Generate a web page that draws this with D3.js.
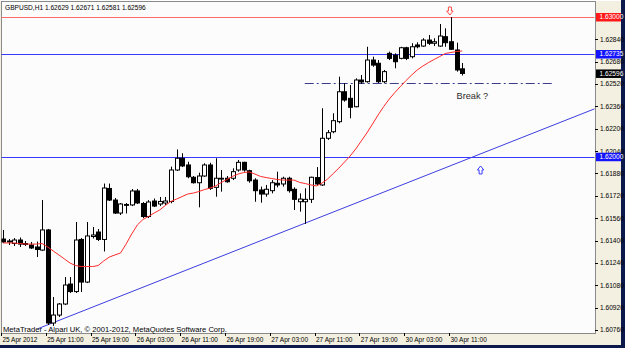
<!DOCTYPE html>
<html><head><meta charset="utf-8">
<script src="https://cdn.jsdelivr.net/npm/d3@7"></script>
<style>
html,body{margin:0;padding:0;background:#fff;}
svg{display:block;font-family:"Liberation Sans",Arial,sans-serif;}
</style></head>
<body>
<svg id="chart" width="625" height="348"></svg>
<script>
// ---- data ----
const symbolTitle = "GBPUSD,H1 1.62629 1.62671 1.62581 1.62596";
const footerText = "MetaTrader - Alpari UK, \u00A9 2001-2012, MetaQuotes Software Corp.";
const opens = [1.61411,1.61390,1.61379,1.61404,1.61379,1.61368,1.61354,1.61332,1.61476,1.60810,
1.60867,1.60946,1.61089,1.61035,1.61408,1.61103,1.61429,1.61461,1.61408,1.61773,
1.61690,1.61597,1.61658,1.61655,1.61755,1.61665,1.61572,1.61683,1.61662,1.61669,
1.61680,1.61905,1.61989,1.61941,1.61853,1.61814,1.61862,1.61941,1.61781,1.61846,
1.61846,1.61846,1.61905,1.61960,1.61900,1.61833,1.61762,1.61733,1.61757,1.61810,
1.61805,1.61846,1.61767,1.61678,1.61678,1.61695,1.61851,1.61798,1.62132,1.62179,
1.62251,1.62465,1.62418,1.62358,1.62549,1.62537,1.62692,1.62669,1.62537,1.62740,
1.62728,1.62704,1.62780,1.62716,1.62800,1.62792,1.62835,1.62812,1.62792,1.62859,
1.62823,1.62764,1.62629];
const highs = [1.61476,1.61411,1.61418,1.61422,1.61397,1.61390,1.61393,1.61690,1.61483,1.60996,
1.60953,1.61139,1.61139,1.61533,1.61418,1.61533,1.61497,1.61483,1.61808,1.61808,
1.61705,1.61669,1.61669,1.61769,1.61769,1.61676,1.61690,1.61701,1.61712,1.61712,
1.61929,1.62052,1.62025,1.61964,1.61862,1.61886,1.61953,1.61957,1.61989,1.61905,
1.61862,1.61917,1.61977,1.61964,1.61907,1.61846,1.61786,1.61798,1.61833,1.61893,
1.61857,1.61857,1.61781,1.61738,1.61774,1.61857,1.61926,1.62347,1.62191,1.62311,
1.62573,1.62526,1.62513,1.62561,1.62585,1.62787,1.62716,1.62692,1.62621,1.62752,
1.62740,1.62787,1.62787,1.62812,1.62819,1.62848,1.62871,1.62848,1.62950,1.62919,
1.63000,1.62816,1.62671];
const lows = [1.61383,1.61368,1.61361,1.61354,1.61361,1.61340,1.61282,1.61325,1.60796,1.60789,
1.60853,1.60939,1.61025,1.61025,1.61032,1.61096,1.61415,1.61397,1.61322,1.61683,
1.61590,1.61583,1.61594,1.61647,1.61662,1.61561,1.61561,1.61640,1.61647,1.61655,
1.61667,1.61898,1.61926,1.61846,1.61808,1.61638,1.61857,1.61762,1.61714,1.61750,
1.61814,1.61833,1.61893,1.61893,1.61814,1.61678,1.61671,1.61714,1.61738,1.61781,
1.61786,1.61743,1.61619,1.61607,1.61519,1.61669,1.61791,1.61791,1.62120,1.62168,
1.62239,1.62394,1.62275,1.62354,1.62521,1.62530,1.62644,1.62528,1.62526,1.62692,
1.62633,1.62697,1.62692,1.62704,1.62776,1.62787,1.62800,1.62792,1.62787,1.62787,
1.62764,1.62609,1.62581];
const closes = [1.61390,1.61397,1.61404,1.61375,1.61372,1.61347,1.61336,1.61476,1.60810,1.60867,
1.60946,1.61082,1.61035,1.61404,1.61103,1.61433,1.61440,1.61408,1.61776,1.61690,
1.61597,1.61662,1.61655,1.61755,1.61669,1.61572,1.61676,1.61647,1.61680,1.61683,
1.61905,1.61989,1.61934,1.61857,1.61814,1.61862,1.61941,1.61774,1.61846,1.61841,
1.61821,1.61893,1.61960,1.61905,1.61828,1.61757,1.61733,1.61767,1.61814,1.61798,
1.61846,1.61757,1.61695,1.61697,1.61695,1.61853,1.61805,1.62132,1.62172,1.62258,
1.62465,1.62406,1.62354,1.62549,1.62535,1.62692,1.62656,1.62537,1.62609,1.62704,
1.62680,1.62780,1.62704,1.62787,1.62787,1.62835,1.62812,1.62823,1.62864,1.62816,
1.62769,1.62621,1.62596];
const maValues = [1.61383,1.61383,1.61383,1.61379,1.61375,1.61375,1.61375,1.61379,1.61354,1.61325,
1.61297,1.61268,1.61239,1.61221,1.61214,1.61214,1.61214,1.61221,1.61254,1.61282,
1.61297,1.61311,1.61375,1.61447,1.61511,1.61551,1.61572,1.61597,1.61619,1.61651,
1.61680,1.61697,1.61715,1.61733,1.61740,1.61751,1.61765,1.61776,1.61791,1.61816,
1.61837,1.61859,1.61876,1.61887,1.61891,1.61876,1.61859,1.61851,1.61844,1.61837,
1.61833,1.61833,1.61833,1.61816,1.61808,1.61798,1.61791,1.61812,1.61841,1.61880,
1.61919,1.61962,1.62005,1.62055,1.62113,1.62170,1.62234,1.62299,1.62359,1.62413,
1.62460,1.62503,1.62546,1.62585,1.62621,1.62649,1.62674,1.62696,1.62717,1.62739,
1.62746,1.62753,1.62757];
const xTickIndex = [0,8,16,24,32,40,48,56,64,72,80];
const xTickLabels = ["25 Apr 2012","25 Apr 11:00","25 Apr 19:00","26 Apr 03:00","26 Apr 11:00",
"26 Apr 19:00","27 Apr 03:00","27 Apr 11:00","27 Apr 19:00","30 Apr 03:00","30 Apr 11:00"];
const yTicks = [1.62840,1.62680,1.62520,1.62360,1.62200,1.62040,1.61880,1.61720,1.61560,
1.61400,1.61240,1.61080,1.60920,1.60760];
const resistanceLevel = 1.63000;
const blueLevels = [1.62735, 1.62000];
const currentPrice = 1.62596;
const breakLevel = 1.62530;
const breakRange = [53.9, 98.0];
const trendIdx = [6.3, 85.2];
const trendPrice = [1.60770, 1.62019];
const downArrow = {i: 80, p: 1.63000};
const upArrow = {i: 85.3, p: 1.61934};
const breakLabel = {i: 81.0, p: 1.62413, text: "Break ?"};

// ---- layout ----
const svg = d3.select("#chart");
const W = 625, H = 348;
const plot = {l: 1, t: 1, r: 595, b: 333};
const x = d3.scaleLinear().domain([0, 100]).range([2.9, 562.9]);
const y = d3.scaleLinear().domain([1.60760, 1.63000]).range([330, 17]);

svg.append("rect").attr("width", W).attr("height", H).attr("fill", "#f3f0e1");
svg.append("rect").attr("x", 621).attr("y", 0).attr("width", 4).attr("height", H).attr("fill", "#0b1a4a");
svg.append("rect").attr("x", 0).attr("y", 345).attr("width", W).attr("height", 3).attr("fill", "#0b1a4a");
svg.append("rect").attr("x", 0).attr("y", 0).attr("width", 621).attr("height", plot.t).attr("fill", "#fff");
svg.append("rect").attr("x", plot.l).attr("y", plot.t).attr("width", plot.r - plot.l).attr("height", plot.b - plot.t)
  .attr("fill", "#fcfcfc").attr("stroke", "#8a8a8a").attr("stroke-width", 1).attr("shape-rendering", "crispEdges");

svg.append("defs").append("clipPath").attr("id", "clip").append("rect")
  .attr("x", plot.l + 0.5).attr("y", plot.t + 0.5).attr("width", plot.r - plot.l - 1).attr("height", plot.b - plot.t - 1);
const g = svg.append("g").attr("clip-path", "url(#clip)");

// horizontal levels
g.append("line").attr("x1", plot.l).attr("x2", plot.r).attr("y1", Math.round(y(resistanceLevel)) + 0.5).attr("y2", Math.round(y(resistanceLevel)) + 0.5)
  .attr("stroke", "#ff6a6a").attr("stroke-width", 1);
g.selectAll(".bl").data(blueLevels).join("line")
  .attr("x1", plot.l).attr("x2", plot.r).attr("y1", d => Math.round(y(d)) + 0.5).attr("y2", d => Math.round(y(d)) + 0.5)
  .attr("stroke", "#3a3aff").attr("stroke-width", 1);

// trend line (ray)
const slope = (trendPrice[1] - trendPrice[0]) / (trendIdx[1] - trendIdx[0]);
const endIdx = x.invert(plot.r);
g.append("line").attr("x1", x(trendIdx[0])).attr("y1", y(trendPrice[0]))
  .attr("x2", x(endIdx)).attr("y2", y(trendPrice[0] + slope * (endIdx - trendIdx[0])))
  .attr("stroke", "#3d3de0").attr("stroke-width", 1);

// dash-dot break line
g.append("line").attr("x1", x(breakRange[0])).attr("x2", x(breakRange[1]))
  .attr("y1", Math.round(y(breakLevel)) + 0.5).attr("y2", Math.round(y(breakLevel)) + 0.5)
  .attr("stroke", "#3c3c8c").attr("stroke-width", 1).attr("stroke-dasharray", "9,3,2,3");

// candles
const idx = d3.range(opens.length);
const bw = 4;
g.selectAll(".wick").data(idx).join("line")
  .attr("x1", i => Math.round(x(i)) + 0.5).attr("x2", i => Math.round(x(i)) + 0.5)
  .attr("y1", i => y(highs[i])).attr("y2", i => y(lows[i]))
  .attr("stroke", "#000").attr("stroke-width", 1);
g.selectAll(".body").data(idx).join("rect")
  .attr("x", i => Math.round(x(i)) - bw / 2 + 0.5)
  .attr("y", i => Math.min(y(opens[i]), y(closes[i])))
  .attr("width", bw)
  .attr("height", i => Math.max(0.8, Math.abs(y(opens[i]) - y(closes[i]))))
  .attr("fill", i => closes[i] >= opens[i] ? "#ffffff" : "#000000")
  .attr("stroke", "#000").attr("stroke-width", 1);

// moving average
g.append("path").datum(idx)
  .attr("d", d3.line().x(i => x(i)).y(i => y(maValues[i])))
  .attr("fill", "none").attr("stroke", "#ff2a2a").attr("stroke-width", 1);

// arrows
function arrowPath(cx, tipY, dir) {
  const s = dir;
  const top = tipY - s * 8;
  return `M${cx - 1.5},${top} L${cx + 1.5},${top} L${cx + 1.5},${top + s * 4} L${cx + 3.2},${top + s * 4} L${cx},${tipY} L${cx - 3.2},${top + s * 4} L${cx - 1.5},${top + s * 4} Z`;
}
g.append("path").attr("d", arrowPath(x(downArrow.i) - 1, y(downArrow.p) - 2, 1))
  .attr("fill", "#fff").attr("stroke", "#ff4a4a").attr("stroke-width", 1);
g.append("path").attr("d", arrowPath(x(upArrow.i), y(upArrow.p), -1))
  .attr("fill", "#fff").attr("stroke", "#3a3aff").attr("stroke-width", 1);

// "Break ?"
g.append("text").attr("x", x(breakLabel.i)).attr("y", y(breakLabel.p))
  .attr("font-size", 9.2).attr("fill", "#2a2a2a").text(breakLabel.text);

// title and footer
svg.append("text").attr("x", 5).attr("y", 9.5).attr("font-size", 6.6).attr("fill", "#000").text(symbolTitle);
svg.append("text").attr("x", 3).attr("y", 331.5).attr("font-size", 7.6).attr("fill", "#000").text(footerText);

// y axis ticks
const ya = svg.append("g");
ya.selectAll("line").data(yTicks).join("line")
  .attr("x1", plot.r).attr("x2", plot.r + 3).attr("y1", d => Math.round(y(d)) + 0.5).attr("y2", d => Math.round(y(d)) + 0.5)
  .attr("stroke", "#000").attr("stroke-width", 1);
ya.selectAll("text").data(yTicks).join("text")
  .attr("x", 600).attr("y", d => y(d) + 2.4).attr("font-size", 6.6).attr("fill", "#000")
  .text(d => d3.format(".5f")(d));

// price labels
function priceTag(p, bg) {
  const yy = y(p);
  svg.append("rect").attr("x", 596).attr("y", yy - 4).attr("width", 25).attr("height", 8.5).attr("fill", bg);
  svg.append("text").attr("x", 599.5).attr("y", yy + 2.4).attr("font-size", 6.6).attr("fill", "#fff").text(d3.format(".5f")(p));
}
priceTag(resistanceLevel, "#ff1a1a");
blueLevels.forEach(p => priceTag(p, "#1414ff"));
priceTag(currentPrice, "#000");

// x axis
const xa = svg.append("g");
xa.selectAll("line").data(xTickIndex).join("line")
  .attr("x1", i => Math.round(x(i)) - 1.5).attr("x2", i => Math.round(x(i)) - 1.5)
  .attr("y1", plot.b).attr("y2", plot.b + 3).attr("stroke", "#000").attr("stroke-width", 1);
xa.selectAll("text").data(xTickIndex).join("text")
  .attr("x", i => x(i) - 0.5).attr("y", 342).attr("font-size", 6.5).attr("fill", "#000")
  .text((i, k) => xTickLabels[k]);
</script>
</body></html>
